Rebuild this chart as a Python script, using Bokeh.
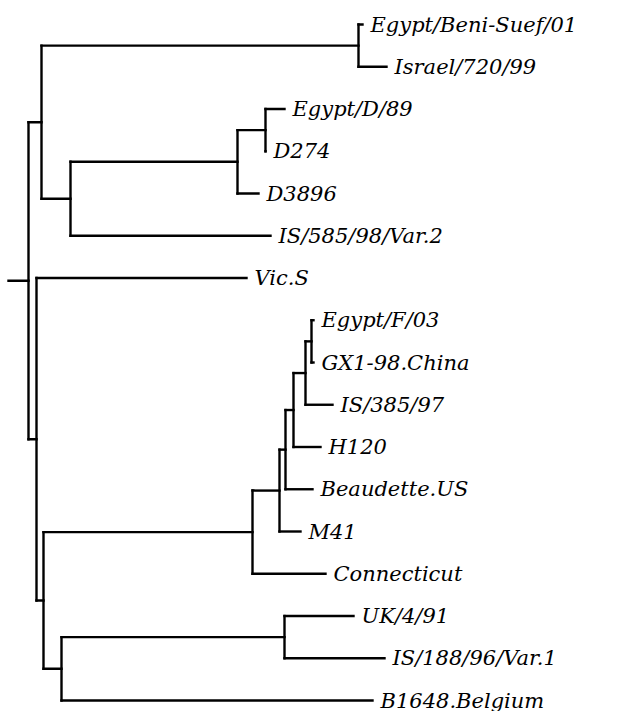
from bokeh.plotting import figure
from bokeh.models import ColumnDataSource, Range1d
from bokeh.core.properties import value
from bokeh.embed import file_html
from bokeh.resources import INLINE

# ---- tree data (branch lengths, arbitrary distance units) ----
node_names = ["R", "A", "BS", "Egypt/Beni-Suef/01", "Israel/720/99",
              "E", "F", "G", "Egypt/D/89", "D274", "D3896", "IS/585/98/Var.2",
              "B", "Vic.S", "C", "M", "M1", "M2", "M3", "M4", "M5",
              "Egypt/F/03", "GX1-98.China", "IS/385/97", "H120", "Beaudette.US",
              "M41", "Connecticut", "D", "U", "UK/4/91", "IS/188/96/Var.1",
              "B1648.Belgium"]
parents = [None, "R", "A", "BS", "BS",
           "A", "E", "F", "G", "G", "F", "E",
           "R", "B", "B", "C", "M", "M1", "M2", "M3", "M4",
           "M5", "M5", "M4", "M3", "M2",
           "M1", "M", "C", "D", "U", "U",
           "D"]
branch_lengths = [0.0, 0.013, 0.317, 0.004, 0.028,
                  0.029, 0.167, 0.028, 0.019, 0.000, 0.021, 0.200,
                  0.008, 0.210, 0.007, 0.209, 0.027, 0.006, 0.008, 0.012, 0.006,
                  0.002, 0.002, 0.027, 0.027, 0.027,
                  0.021, 0.073, 0.018, 0.223, 0.069, 0.100,
                  0.311]
leaf_order = ["Egypt/Beni-Suef/01", "Israel/720/99", "Egypt/D/89", "D274",
              "D3896", "IS/585/98/Var.2", "Vic.S", "Egypt/F/03", "GX1-98.China",
              "IS/385/97", "H120", "Beaudette.US", "M41", "Connecticut",
              "UK/4/91", "IS/188/96/Var.1", "B1648.Belgium"]
root_stub = 0.020

# ---- layout ----
par = dict(zip(node_names, parents))
blen = dict(zip(node_names, branch_lengths))
children = {n: [] for n in node_names}
for n, pa in par.items():
    if pa is not None:
        children[pa].append(n)

xpos = {}
def set_x(n, x0):
    xpos[n] = x0 + blen[n]
    for c in children[n]:
        set_x(c, xpos[n])
set_x("R", 0.0)

ypos = {leaf: i for i, leaf in enumerate(leaf_order)}
def set_y(n):
    if n in ypos:
        return ypos[n]
    ys = [set_y(c) for c in children[n]]
    ypos[n] = (min(ys) + max(ys)) / 2.0
    return ypos[n]
set_y("R")

x0s, y0s, x1s, y1s = [], [], [], []
for n in node_names:
    pa = par[n]
    if pa is not None:
        x0s.append(xpos[pa]); x1s.append(xpos[n]); y0s.append(ypos[n]); y1s.append(ypos[n])
    if children[n]:
        ys = [ypos[c] for c in children[n]]
        x0s.append(xpos[n]); x1s.append(xpos[n]); y0s.append(min(ys)); y1s.append(max(ys))
x0s.append(-root_stub); x1s.append(0.0); y0s.append(ypos["R"]); y1s.append(ypos["R"])

seg = ColumnDataSource(dict(x0=x0s, y0=y0s, x1=x1s, y1=y1s))
lab = ColumnDataSource(dict(x=[xpos[l] for l in leaf_order],
                            y=[ypos[l] for l in leaf_order],
                            t=leaf_order))

W, H = 632, 711
px = 0.001  # data units per pixel
p = figure(width=W, height=H, output_backend="svg", toolbar_location=None,
           x_range=Range1d(-0.028, -0.028 + W * px),
           y_range=Range1d((H - 24) / 42.25, -24 / 42.25),
           min_border=0)
p.axis.visible = False
p.grid.visible = False
p.outline_line_color = None
p.background_fill_color = "white"

p.segment("x0", "y0", "x1", "y1", source=seg, line_color="black",
          line_width=2.4, line_cap="square")
p.text("x", "y", text="t", source=lab, x_offset=8,
       text_font=value("DejaVu Serif"), text_font_style="italic",
       text_font_size="21px", text_baseline="middle", text_align="left",
       text_color="black")

open("out.html", "w").write(file_html(p, INLINE))
